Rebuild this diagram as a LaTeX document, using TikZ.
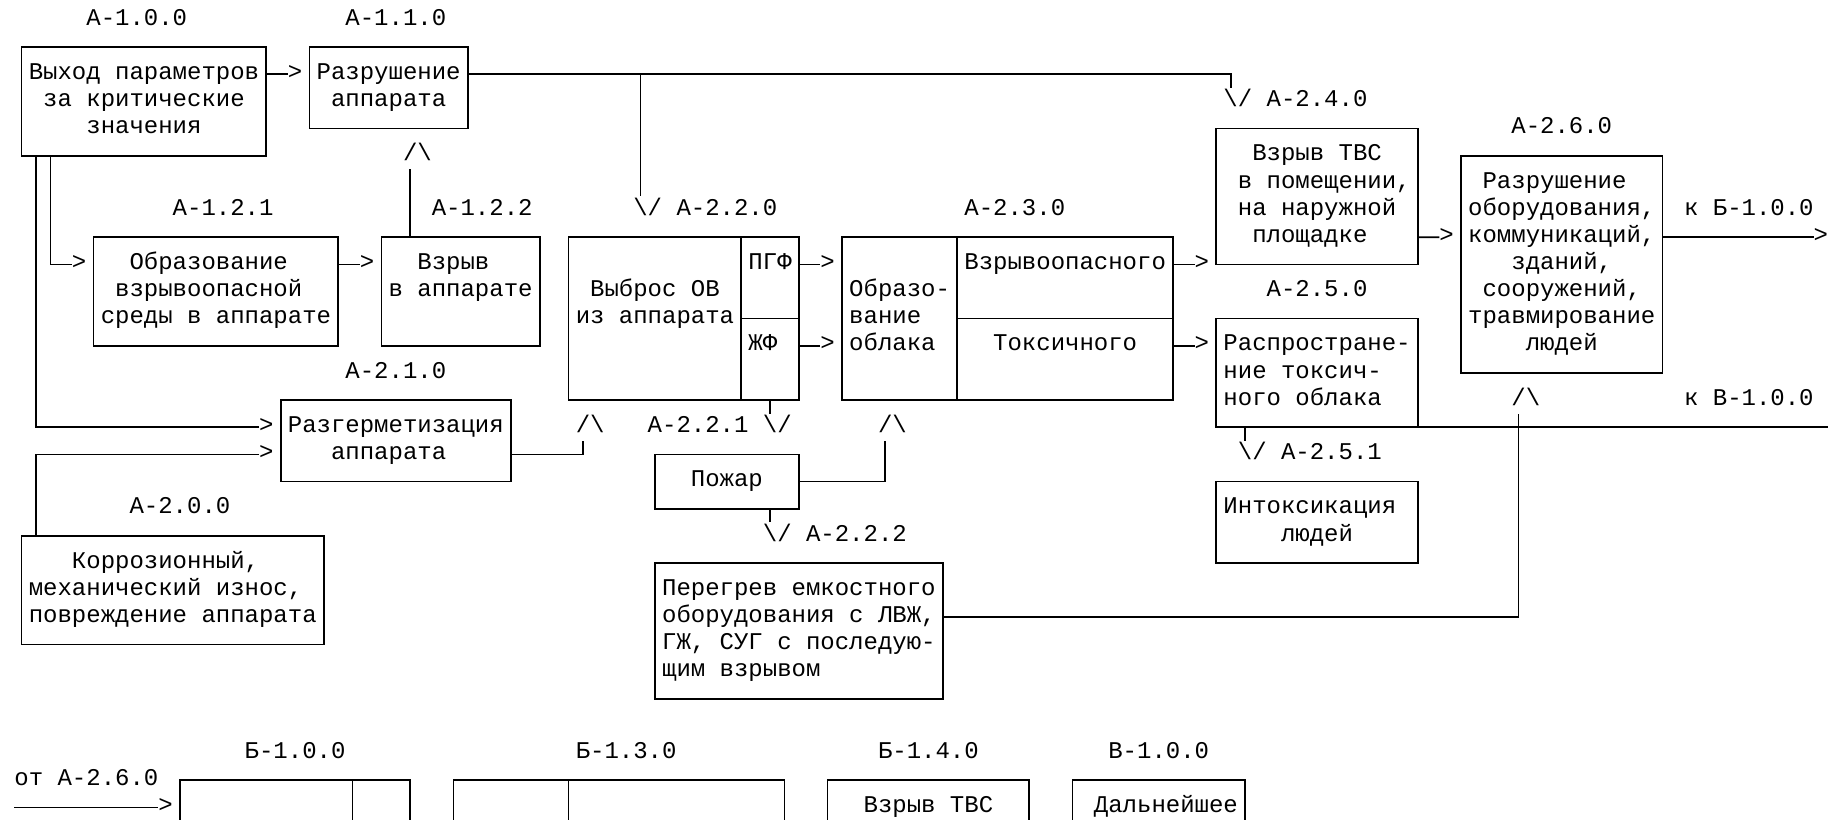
\documentclass[tikz,border=0pt]{standalone}
\usepackage{fontspec}
\newfontfamily\mono{Liberation Mono}
\usetikzlibrary{calc}
\tikzset{
  cellbox/.style={draw, line width=0.7pt, inner sep=0pt, outer sep=0pt, rectangle},
  txt/.style={anchor=base west, inner sep=0pt, outer sep=0pt, font=\mono\fontsize{10pt}{11pt}\selectfont},
  tipr/.style={anchor=west, inner sep=0pt, outer sep=0pt, text height=5pt, text depth=0.7pt, font=\mono\fontsize{10pt}{11pt}\selectfont},
  tipv/.style={anchor=base west, inner sep=0pt, outer sep=0pt, font=\mono\fontsize{10pt}{11pt}\selectfont},
  wire/.style={line width=0.7pt},
}
\newcommand\cellat[5]{\node[cellbox, minimum width={(#4-#2)*6pt}, minimum height={(#5-#3)*11.317pt}] (#1) at ({(#2+#4)/2+0.5},{(#3+#5)/2}) {};}
\newcommand\tline[4]{\node[txt] (#1) at (#2,{#3+0.19}) {#4};}
\newcommand\tipR[3]{\node[tipr] (#1) at (#2,#3) {>};}
\newcommand\tipD[3]{\node[tipv] (#1) at (#2,{#3+0.19}) {\textbackslash/};}
\newcommand\tipU[3]{\node[tipv] (#1) at (#2,{#3+0.19}) {/\textbackslash};}
\begin{document}
\begin{tikzpicture}[x=6pt,y=-11.317pt]
\path[use as bounding box, fill=white] (0,-0.7366) rectangle (127,29.466);
\clip (0,-0.7366) rectangle (127,29.466);

% ---------- boxes ----------
\cellat{A100}{1}{1}{18}{5}
\cellat{A110}{21}{1}{32}{4}
\cellat{A121}{6}{8}{23}{12}
\cellat{A122}{26}{8}{37}{12}
\cellat{A220}{39}{8}{51}{14}
\cellat{A220b}{51}{8}{55}{11}
\cellat{A220c}{51}{11}{55}{14}
\cellat{A230}{58}{8}{66}{14}
\cellat{A230b}{66}{8}{81}{11}
\cellat{A230c}{66}{11}{81}{14}
\cellat{A240}{84}{4}{98}{9}
\cellat{A260}{101}{5}{115}{13}
\cellat{A250}{84}{11}{98}{15}
\cellat{A251}{84}{17}{98}{20}
\cellat{A210}{19}{14}{35}{17}
\cellat{A200}{1}{19}{22}{23}
\cellat{P}{45}{16}{55}{18}
\cellat{Q}{45}{20}{65}{25}
\cellat{B100}{12}{28}{24}{32}
\cellat{B100b}{24}{28}{28}{32}
\cellat{B130}{31}{28}{39}{32}
\cellat{B130b}{39}{28}{54}{32}
\cellat{B140}{57}{28}{71}{32}
\cellat{V100}{74}{28}{86}{32}

% ---------- labels ----------
\tline{L100}{6}{0}{А-1.0.0}
\tline{L110}{24}{0}{А-1.1.0}
\tline{L121}{12}{7}{А-1.2.1}
\tline{L122}{30}{7}{А-1.2.2}
\tline{L220}{47}{7}{А-2.2.0}
\tline{L230}{67}{7}{А-2.3.0}
\tline{L240}{88}{3}{А-2.4.0}
\tline{L260}{105}{4}{А-2.6.0}
\tline{L250}{88}{10}{А-2.5.0}
\tline{LkB}{117}{7}{к Б-1.0.0}
\tline{LkV}{117}{14}{к В-1.0.0}
\tline{L210}{24}{13}{А-2.1.0}
\tline{L221}{45}{15}{А-2.2.1}
\tline{L222}{56}{19}{А-2.2.2}
\tline{L251}{89}{16}{А-2.5.1}
\tline{L200}{9}{18}{А-2.0.0}
\tline{LB100}{17}{27}{Б-1.0.0}
\tline{LB130}{40}{27}{Б-1.3.0}
\tline{LB140}{61}{27}{Б-1.4.0}
\tline{LV100}{77}{27}{В-1.0.0}
\tline{Lot}{1}{28}{от А-2.6.0}

% ---------- box texts ----------
\tline{t1a}{2}{2}{Выход параметров}
\tline{t1b}{3}{3}{за критические}
\tline{t1c}{6}{4}{значения}
\tline{t2a}{22}{2}{Разрушение}
\tline{t2b}{23}{3}{аппарата}
\tline{t3a}{9}{9}{Образование}
\tline{t3b}{8}{10}{взрывоопасной}
\tline{t3c}{7}{11}{среды в аппарате}
\tline{t4a}{29}{9}{Взрыв}
\tline{t4b}{27}{10}{в аппарате}
\tline{t5a}{52}{9}{ПГФ}
\tline{t5b}{41}{10}{Выброс ОВ}
\tline{t5c}{40}{11}{из аппарата}
\tline{t5d}{52}{12}{ЖФ}
\tline{t6a}{59}{10}{Образо-}
\tline{t6b}{59}{11}{вание}
\tline{t6c}{59}{12}{облака}
\tline{t6d}{67}{9}{Взрывоопасного}
\tline{t6e}{69}{12}{Токсичного}
\tline{t7a}{87}{5}{Взрыв ТВС}
\tline{t7b}{86}{6}{в помещении,}
\tline{t7c}{86}{7}{на наружной}
\tline{t7d}{87}{8}{площадке}
\tline{t8a}{103}{6}{Разрушение}
\tline{t8b}{102}{7}{оборудования,}
\tline{t8c}{102}{8}{коммуникаций,}
\tline{t8d}{105}{9}{зданий,}
\tline{t8e}{103}{10}{сооружений,}
\tline{t8f}{102}{11}{травмирование}
\tline{t8g}{106}{12}{людей}
\tline{t9a}{85}{12}{Распростране-}
\tline{t9b}{85}{13}{ние токсич-}
\tline{t9c}{85}{14}{ного облака}
\tline{t10a}{85}{18}{Интоксикация}
\tline{t10b}{89}{19}{людей}
\tline{t11a}{20}{15}{Разгерметизация}
\tline{t11b}{23}{16}{аппарата}
\tline{t12a}{5}{20}{Коррозионный,}
\tline{t12b}{2}{21}{механический износ,}
\tline{t12c}{2}{22}{повреждение аппарата}
\tline{t13a}{48}{17}{Пожар}
\tline{t14a}{46}{21}{Перегрев емкостного}
\tline{t14b}{46}{22}{оборудования с ЛВЖ,}
\tline{t14c}{46}{23}{ГЖ, СУГ с последую-}
\tline{t14d}{46}{24}{щим взрывом}
\tline{t15a}{60}{29}{Взрыв ТВС}
\tline{t16a}{76}{29}{Дальнейшее}

% ---------- arrow heads ----------
\tipR{g1}{20}{2}
\tipD{g2}{85}{3}
\tipD{g3}{44}{7}
\tipU{g4}{28}{5}
\tipR{g5}{5}{9}
\tipR{g6}{18}{15}
\tipR{g7}{18}{16}
\tipR{g8}{25}{9}
\tipU{g9}{40}{15}
\tipR{g10}{57}{9}
\tipR{g11}{57}{12}
\tipR{g12}{83}{9}
\tipR{g13}{83}{12}
\tipR{g14}{100}{8}
\tipR{g15}{126}{8}
\tipD{g17}{53}{15}
\tipU{g18}{61}{15}
\tipD{g19}{53}{19}
\tipU{g20}{105}{14}
\tipD{g21}{86}{16}
\tipR{g22}{11}{29}

% ---------- connectors ----------
\draw[wire] ($(A100.north east)+(0,1)$) -- (g1.west);
\draw[wire] ($(A110.north east)+(0,1)$) -- ($(A110.north east)+(53,1)$) -- ($(A110.north east)+(53,1.5)$);
\draw[wire] ($(A110.north east)+(12,1)$) -- ($(A110.north east)+(12,5.5)$);
\draw[wire] ($(A122.north west)+(2,0)$) -- ($(A122.north west)+(2,-2.5)$);
\draw[wire] ($(A100.south west)+(2,0)$) |- (g5.west);
\draw[wire] ($(A100.south west)+(1,0)$) |- (g6.west);
\draw[wire] ($(A200.north west)+(1,0)$) |- (g7.west);
\draw[wire] ($(A121.north east)+(0,1)$) -- (g8.west);
\draw[wire] ($(A210.south east)+(0,-1)$) -- ($(A210.south east)+(5,-1)$) -- ($(A210.south east)+(5,-1.5)$);
\draw[wire] ($(A220b.north east)+(0,1)$) -- (g10.west);
\draw[wire] ($(A220c.north east)+(0,1)$) -- (g11.west);
\draw[wire] ($(A230b.north east)+(0,1)$) -- (g12.west);
\draw[wire] ($(A230c.north east)+(0,1)$) -- (g13.west);
\draw[wire] ($(A240.south east)+(0,-1)$) -- (g14.west);
\draw[wire] ($(A260.north east)+(0,3)$) -- (g15.west);
\coordinate (eV) at (127,15);
\draw[wire] (A250.south east) -- (eV);
\draw[wire] ($(A220c.south west)+(2,0)$) -- ++(0,0.5);
\draw[wire] ($(P.north east)+(0,1)$) -- ($(P.north east)+(6,1)$) -- ($(P.north east)+(6,-0.5)$);
\draw[wire] ($(P.south west)+(8,0)$) -- ++(0,0.5);
\draw[wire] ($(Q.north east)+(0,2)$) -- ($(Q.north east)+(40,2)$) -- ($(Q.north east)+(40,-5.5)$);
\draw[wire] ($(A250.south west)+(2,0)$) -- ++(0,0.5);
\coordinate (sB) at (1,29);
\draw[wire] (sB) -- (g22.west);
\end{tikzpicture}
\end{document}
